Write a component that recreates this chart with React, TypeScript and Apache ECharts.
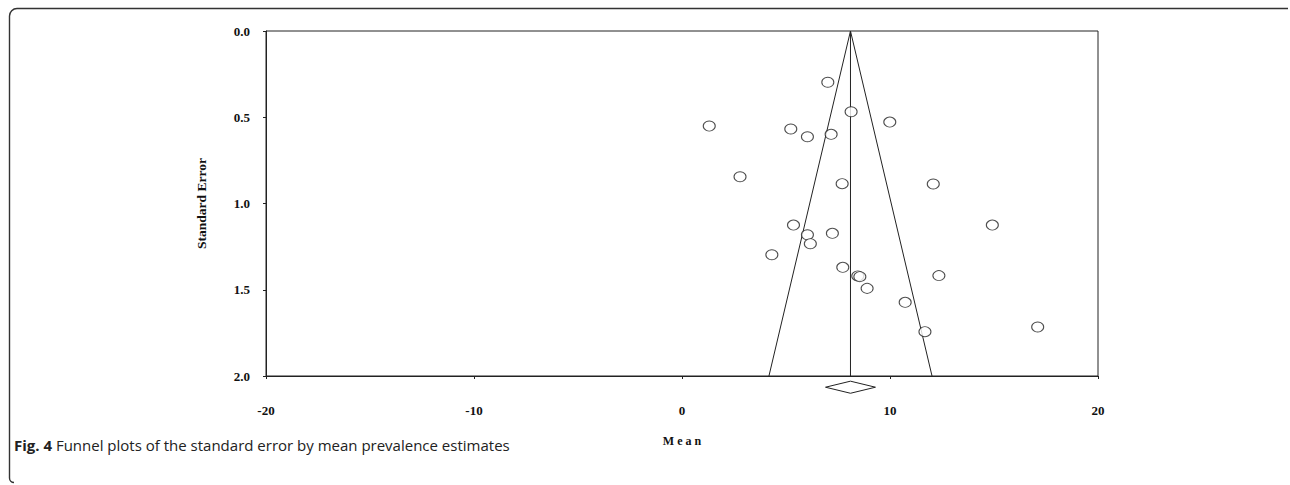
import React, { useEffect, useRef } from "react";
import * as echarts from "echarts";

const xTicks = [-20, -10, 0, 10, 20];
const yTicks = [0, 0.5, 1.0, 1.5, 2.0];

const studyMean = [
  7.01, 8.13, 1.31, 5.23, 6.03, 7.17, 9.99, 2.79, 7.7, 12.08,
  5.36, 6.03, 7.23, 6.17, 4.32, 7.73, 8.45, 8.55, 12.35, 8.9,
  10.73, 11.68, 17.1, 14.92,
];
const studySE = [
  0.297, 0.468, 0.551, 0.568, 0.613, 0.599, 0.528, 0.845, 0.885, 0.887,
  1.125, 1.181, 1.173, 1.233, 1.297, 1.37, 1.42, 1.424, 1.418, 1.492,
  1.573, 1.743, 1.716, 1.125,
];

const pooledMean = 8.1;
const funnelSEMax = 2.0;
const z = 1.96;
const diamondHalfWidth = 1.2;
const diamondY = [2.03, 2.065, 2.1];

export default function App() {
  const ref = useRef<HTMLDivElement>(null);
  useEffect(() => {
    if (!ref.current) return;
    const chart = echarts.init(ref.current, undefined, { renderer: "svg" });
    const points = studyMean.map((m, i) => [m, studySE[i]]);
    const funnelLeft = [
      [pooledMean, 0],
      [pooledMean - z * funnelSEMax, funnelSEMax],
    ];
    const funnelRight = [
      [pooledMean, 0],
      [pooledMean + z * funnelSEMax, funnelSEMax],
    ];
    const meanLine = [
      [pooledMean, 0],
      [pooledMean, funnelSEMax],
    ];
    const diamond = [
      [pooledMean - diamondHalfWidth, diamondY[1]],
      [pooledMean, diamondY[0]],
      [pooledMean + diamondHalfWidth, diamondY[1]],
      [pooledMean, diamondY[2]],
      [pooledMean - diamondHalfWidth, diamondY[1]],
    ];
    const serif = "'Liberation Serif', 'DejaVu Serif', serif";
    const lineStyle = { color: "#222", width: 1 };
    const frameStyle = { stroke: "#333", lineWidth: 1.4, fill: null };
    chart.setOption({
      animation: false,
      backgroundColor: "#fff",
      grid: {
        left: 266,
        right: 192,
        top: 31,
        bottom: 109,
        show: true,
        borderColor: "#222",
        borderWidth: 1,
      },
      xAxis: {
        type: "value",
        min: xTicks[0],
        max: xTicks[xTicks.length - 1],
        interval: 10,
        name: "M e a n",
        nameLocation: "middle",
        nameGap: 59,
        nameTextStyle: {
          fontFamily: serif,
          fontWeight: "bold",
          fontSize: 12,
          color: "#111",
        },
        axisLine: { onZero: false, lineStyle: { color: "#222" } },
        axisTick: { show: true, length: 3, lineStyle: { color: "#222" } },
        axisLabel: {
          margin: 28,
          fontFamily: serif,
          fontWeight: "bold",
          fontSize: 13,
          color: "#111",
        },
        splitLine: { show: false },
      },
      yAxis: {
        type: "value",
        inverse: true,
        min: yTicks[0],
        max: yTicks[yTicks.length - 1],
        interval: 0.5,
        name: "Standard Error",
        nameLocation: "middle",
        nameGap: 58,
        nameTextStyle: {
          fontFamily: serif,
          fontWeight: "bold",
          fontSize: 13.5,
          color: "#111",
        },
        axisLine: { show: true, onZero: false, lineStyle: { color: "#222" } },
        axisTick: { show: true, length: 3, lineStyle: { color: "#222" } },
        axisLabel: {
          margin: 16,
          fontFamily: serif,
          fontWeight: "bold",
          fontSize: 13,
          color: "#111",
          formatter: (v: number) => v.toFixed(1),
        },
        splitLine: { show: false },
      },
      series: [
        { type: "line", data: funnelLeft, showSymbol: false, lineStyle, silent: true },
        { type: "line", data: funnelRight, showSymbol: false, lineStyle, silent: true },
        { type: "line", data: meanLine, showSymbol: false, lineStyle, silent: true },
        {
          type: "line",
          data: diamond,
          showSymbol: false,
          lineStyle,
          clip: false,
          silent: true,
        },
        {
          type: "scatter",
          data: points,
          symbol: "circle",
          symbolSize: [12, 10],
          itemStyle: { color: "#fff", borderColor: "#222", borderWidth: 1 },
          z: 5,
        },
      ],
      graphic: [
        {
          type: "line",
          shape: { x1: 17, y1: 8.5, x2: 1288, y2: 8.5 },
          style: frameStyle,
          silent: true,
        },
        {
          type: "line",
          shape: { x1: 9.5, y1: 16, x2: 9.5, y2: 478 },
          style: frameStyle,
          silent: true,
        },
        {
          type: "arc",
          shape: { cx: 17, cy: 16, r: 7.5, startAngle: Math.PI, endAngle: Math.PI * 1.5, clockwise: true },
          style: frameStyle,
          silent: true,
        },
        {
          type: "arc",
          shape: { cx: 14, cy: 478, r: 4.5, startAngle: Math.PI * 0.5, endAngle: Math.PI, clockwise: true },
          style: frameStyle,
          silent: true,
        },
        {
          type: "text",
          x: 14,
          y: 445,
          style: {
            text: "{b|Fig. 4} Funnel plots of the standard error by mean prevalence estimates",
            rich: {
              b: {
                fontFamily: "'Open Sans', sans-serif",
                fontWeight: "bold",
                fontSize: 15,
                fill: "#222",
              },
            },
            fontFamily: "'Open Sans', sans-serif",
            fontSize: 15,
            fill: "#222",
            verticalAlign: "middle",
          },
        },
      ],
    });
    return () => chart.dispose();
  }, []);
  return (
    <div
      ref={ref}
      style={{ width: 1290, height: 485, position: "absolute", left: 0, top: 0 }}
    />
  );
}
